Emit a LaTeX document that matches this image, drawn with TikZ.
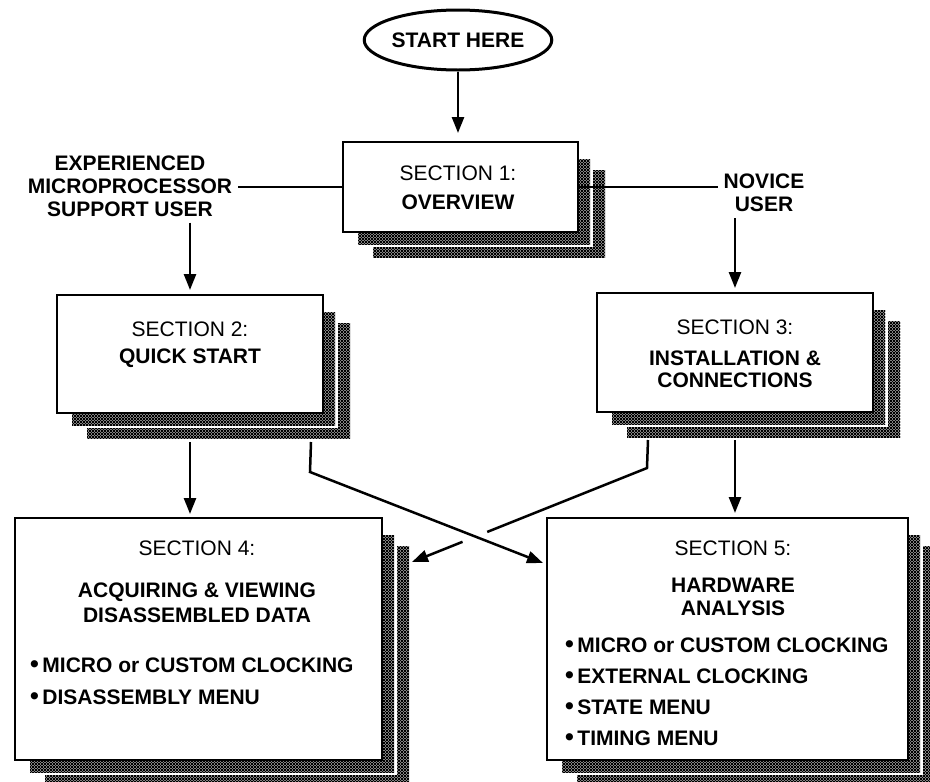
\documentclass[tikz,border=0pt]{standalone}
\usepackage{fontspec}
\setmainfont{Liberation Sans}
\usetikzlibrary{shapes.geometric,arrows.meta,patterns,backgrounds,calc}
\pgfdeclarepatternformonly{scanhatch}{\pgfqpoint{-0.1pt}{-0.1pt}}{\pgfqpoint{3.1pt}{3.1pt}}{\pgfqpoint{3pt}{3pt}}{%
  \pgfsetlinewidth{1pt}%
  \pgfpathmoveto{\pgfqpoint{0pt}{0pt}}\pgfpathlineto{\pgfqpoint{3pt}{3pt}}%
  \pgfpathmoveto{\pgfqpoint{0pt}{3pt}}\pgfpathlineto{\pgfqpoint{3pt}{0pt}}%
  \pgfusepath{stroke}}
\newcommand\dotmark{{\fontsize{25}{23}\selectfont•}\,}
\begin{document}
\begin{tikzpicture}[x=1pt,y=-1pt,font=\fontsize{21}{23}\selectfont,
	box/.style={draw,line width=2.7pt,fill=white,inner sep=0pt,outer sep=0pt},
	txt/.style={align=center,inner sep=0pt},
	lbl/.style={align=center,inner sep=6pt,font=\fontsize{21}{23}\selectfont\bfseries},
	arr/.style={line width=2.5pt,-{Triangle[length=16pt,width=12pt]}},
	link/.style={line width=2pt}]
	\useasboundingbox (0,0) rectangle (930,782);
	\node[ellipse,draw,line width=3pt,minimum width=172pt,minimum height=60pt,inner sep=0pt,font=\fontsize{21}{23}\selectfont\bfseries] (start) at (458,40) {START HERE};
	\node[box,minimum width=235pt,minimum height=90pt] (s1) at (460.5,187) {};
	\node[box,minimum width=266pt,minimum height=118pt] (s2) at (190,354) {};
	\node[box,minimum width=276pt,minimum height=119pt] (s3) at (735,352.5) {};
	\node[box,minimum width=367pt,minimum height=242pt] (s4) at (198.5,639) {};
	\node[box,minimum width=361pt,minimum height=242pt] (s5) at (727.5,639) {};
	\begin{scope}[on background layer]
		\foreach \b in {s1,s2,s3,s4,s5}{
			\fill[pattern=scanhatch] ([shift={(30,28)}]\b.north west) rectangle ([shift={(27,25)}]\b.south east);
			\fill[white] ([shift={(15,17)}]\b.north west) rectangle ([shift={(15,15)}]\b.south east);
			\fill[pattern=scanhatch] ([shift={(15,17)}]\b.north west) rectangle ([shift={(12,12)}]\b.south east);
		}
	\end{scope}
	\node[txt] (t1) at (458,187.5) {SECTION 1:\\[6pt]\textbf{OVERVIEW}};
	\node[txt] (t2) at (190,344.5) {SECTION 2:\\[4pt]\textbf{QUICK START}};
	\node[txt] (t3) at (735,353.5) {SECTION 3:\\[8pt]\textbf{INSTALLATION \&}\\[-1pt]\textbf{CONNECTIONS}};
	\node[txt] (t4) at (197,581.5) {SECTION 4:\\[19pt]\textbf{ACQUIRING \& VIEWING}\\[2pt]\textbf{DISASSEMBLED DATA}};
	\node[txt] (t5) at (733,578) {SECTION 5:\\[14pt]\textbf{HARDWARE}\\\textbf{ANALYSIS}};
	\node[txt,align=left,anchor=west,font=\fontsize{21}{23}\selectfont\bfseries] (b4) at (30,681) {\dotmark MICRO or CUSTOM CLOCKING\\[9pt]\dotmark DISASSEMBLY MENU};
	\node[txt,align=left,anchor=west,font=\fontsize{21}{23}\selectfont\bfseries] (b5) at (565,691.5) {\dotmark MICRO or CUSTOM CLOCKING\\[8pt]\dotmark EXTERNAL CLOCKING\\[8pt]\dotmark STATE MENU\\[8pt]\dotmark TIMING MENU};
	\node[lbl] (expert) at (130,186) {EXPERIENCED\\MICROPROCESSOR\\SUPPORT USER};
	\node[lbl] (novice) at (764,193) {NOVICE\\USER};
	\draw[arr,shorten >=9pt] (start) -- (start |- s1.north);
	\draw[link] (expert.east |- s1.west) -- (s1.west);
	\draw[link] (s1.east) -- (s1.east -| novice.west);
	\draw[arr,shorten >=5pt] (expert.south -| s2.north) -- (s2.north);
	\draw[arr,shorten >=5pt] (novice.south -| s3.north) -- (s3.north);
	\draw[arr,shorten >=4pt] ([yshift=-29pt]s2.south) -- (s2.south |- s4.north);
	\draw[arr,shorten >=5pt] ([yshift=-28pt]s3.south) -- (s3.south |- s5.north);
	\coordinate (x2a) at (311,442);
	\coordinate (x2b) at (310,472);
	\coordinate (s5in) at (543,563);
	\coordinate (x3a) at (648,440);
	\coordinate (x3b) at (647,468);
	\coordinate (s4in) at (412,562);
	\draw[arr] (x2a) -- (x2b) -- (s5in);
	\draw[line width=2.5pt] (x3a) -- (x3b) -- ($(x3b)!0.68!(s4in)$);
	\draw[arr] ($(x3b)!0.785!(s4in)$) -- (s4in);
\end{tikzpicture}
\end{document}
